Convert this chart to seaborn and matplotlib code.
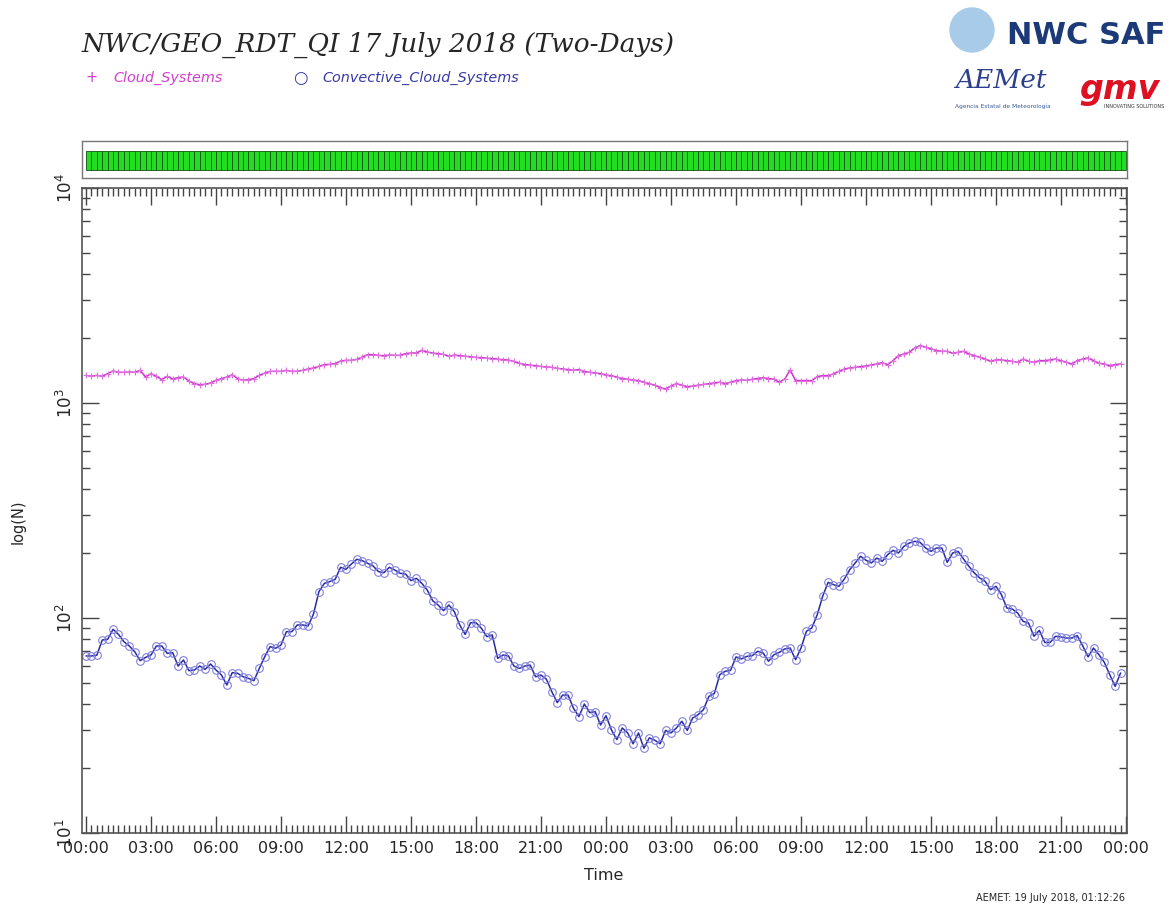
import numpy as np
import pandas as pd
import matplotlib
matplotlib.use('Agg')
import matplotlib.pyplot as plt
import seaborn as sns
from matplotlib.patches import Ellipse
from matplotlib.ticker import FixedLocator, MultipleLocator, NullFormatter

# values, one every 15 minutes from 17 July 00:00
convective_day1 = [
    66.6, 66.6, 67.1, 79.0, 79.6, 88.6, 83.9, 77.6, 74.1, 69.7,
    63.3, 65.6, 67.3, 74.1, 74.1, 68.5, 69.0, 59.8, 63.8, 56.9,
    57.3, 59.8, 57.7, 61.1, 57.3, 54.3, 48.8, 55.7, 55.3, 53.3,
    52.4, 51.1, 58.3, 66.1, 73.6, 72.3, 74.9, 86.4, 86.4, 92.8,
    92.8, 91.8, 104.4, 132.6, 144.9, 147.6, 151.3, 172.1, 168.4, 178.3,
    187.5, 184.8, 179.6, 174.6, 164.3, 162.5, 172.1, 167.2, 161.4, 160.2,
    149.2, 152.9, 144.9, 134.9, 120.4, 114.9, 108.2, 114.9, 107.0, 92.8,
    83.9, 95.1, 95.1, 89.5, 81.9, 83.4, 64.9, 67.3, 66.6, 59.8,
    58.3, 59.8, 60.4, 53.3, 54.3, 51.9, 45.4, 40.4, 43.8, 43.8,
    38.0, 34.8, 39.8, 36.3, 36.7, 31.8,
]
convective_day2 = [
    35.1, 30.2, 27.2, 30.8, 29.2, 26.0, 29.2, 24.8, 27.7, 27.0,
    26.0, 30.0, 29.2, 30.8, 33.1, 30.0, 34.3, 35.5, 37.5, 43.2,
    44.5, 54.5, 56.5, 57.1, 65.9, 64.5, 66.3, 66.8, 70.0, 68.8,
    62.9, 67.5, 69.2, 71.8, 72.5, 64.0, 72.5, 86.7, 89.9, 103.6,
    126.1, 146.5, 142.9, 140.4, 151.8, 167.8, 180.3, 193.6, 185.5, 180.3,
    190.1, 183.5, 197.0, 206.4, 200.6, 215.4, 223.3, 227.3, 224.9, 211.6,
    204.2, 211.6, 211.6, 181.5, 200.6, 204.2, 188.2, 173.9, 162.0, 153.5,
    148.1, 135.4, 140.4, 128.4, 111.3, 110.1, 105.5, 96.5, 94.8, 82.2,
    87.6, 77.0, 77.0, 82.2, 81.6, 80.7, 80.7, 82.8, 74.3, 65.9,
    72.5, 67.5, 62.2, 54.5, 48.1, 55.5,
]
cloud_a = [
    1345, 1331, 1345, 1331, 1369, 1409, 1389, 1389, 1394, 1389,
    1419, 1321, 1369, 1331, 1284, 1331, 1293, 1312, 1321, 1266,
    1230, 1217, 1222, 1239, 1275, 1298, 1321, 1354, 1298, 1275,
    1284, 1298, 1345, 1379, 1404, 1404, 1404, 1419, 1404, 1404,
    1419, 1439, 1455, 1481, 1508, 1513, 1524, 1568, 1579, 1579,
    1596, 1637, 1678, 1678, 1666, 1660, 1672, 1666, 1666, 1696,
    1708, 1708, 1758, 1727, 1708, 1696, 1684, 1648,
]
cloud_b = [
    1672, 1660, 1650, 1640, 1630, 1625, 1615, 1610,
    1600, 1590, 1585, 1560, 1530, 1510, 1500, 1490,
    1480, 1470, 1465, 1450, 1440, 1430, 1420, 1430,
    1400, 1390, 1380, 1370, 1350, 1340, 1320, 1300,
    1290, 1280, 1270, 1250, 1230, 1210, 1180, 1160,
    1200, 1230, 1210, 1190, 1200, 1210, 1220, 1230,
    1240, 1250, 1230, 1250, 1270, 1280, 1275, 1290,
    1300, 1310, 1300, 1290,
]
cloud_c = [
    1248, 1294, 1425, 1271, 1271, 1271, 1271, 1327, 1341, 1341,
    1365, 1404, 1440, 1455, 1466, 1476, 1487, 1503, 1519, 1541,
    1508, 1574, 1661, 1691, 1722, 1803, 1849, 1816, 1790, 1753,
    1740, 1740, 1703, 1722, 1740, 1691, 1661, 1631, 1602, 1563,
    1586, 1586, 1574, 1563, 1546, 1602, 1563, 1546, 1574, 1574,
    1586, 1602, 1574, 1546, 1519, 1574, 1602, 1620, 1574, 1530,
    1519, 1492, 1508, 1519,
]
tick_labels = ['00:00', '03:00', '06:00', '09:00', '12:00', '15:00',
               '18:00', '21:00', '00:00', '03:00', '06:00', '09:00',
               '12:00', '15:00', '18:00', '21:00', '00:00']

convective = convective_day1 + convective_day2
cloud = cloud_a + cloud_b + cloud_c
hours = np.arange(len(cloud)) * 0.25
df = pd.DataFrame({'hours': hours, 'cloud': cloud, 'convective': convective})

sns.set_style('white')
plt.rcParams['font.family'] = ['DejaVu Sans']

fig = plt.figure(figsize=(11.72, 9.06), dpi=100)
ax = fig.add_axes([82 / 1172, 73 / 906, 1045 / 1172, 645 / 906])
bar_ax = fig.add_axes([82 / 1172, 728 / 906, 1045 / 1172, 37 / 906])

pink = '#cc33cc'
blue = '#2a2aa0'
sns.lineplot(data=df, x='hours', y='cloud', ax=ax, color=pink, lw=1.1,
             marker='+', markersize=4, markeredgecolor='#e070e0', markeredgewidth=0.8)
sns.lineplot(data=df, x='hours', y='convective', ax=ax, color=blue, lw=1.1,
             marker='o', markersize=5.5, markerfacecolor='none',
             markeredgecolor='#8080dd', markeredgewidth=0.8)

xmin, xmax = -4 / 21.67, 48 + 1 / 21.67
ax.set_yscale('log')
ax.set_ylim(10, 10000)
ax.set_xlim(xmin, xmax)
ax.set_xticks(np.arange(0, 49, 3))
ax.set_xticklabels(tick_labels, fontsize=11.5)
ax.xaxis.set_minor_locator(MultipleLocator(0.25))
ax.set_yticks([10, 100, 1000, 10000])
ax.set_yticklabels(['$10^{1}$', '$10^{2}$', '$10^{3}$', '$10^{4}$'],
                   rotation=90, va='center', fontsize=12)
ax.yaxis.set_minor_locator(FixedLocator(
    [m * 10 ** e for e in range(1, 4) for m in range(2, 10)]))
ax.yaxis.set_minor_formatter(NullFormatter())
ax.tick_params(which='both', direction='in', top=True, right=True,
               bottom=True, left=True, color='#444444', width=1.0)
ax.tick_params(which='major', length=12)
ax.tick_params(which='minor', length=6)
ax.tick_params(axis='x', pad=6)
ax.tick_params(axis='y', pad=4)
for s in ax.spines.values():
    s.set_color('#555555')
    s.set_linewidth(1.2)
ax.set_xlabel('')
ax.set_ylabel('')

# availability bar, one cell per slot
bar_ax.bar(hours, 0.52, bottom=0.22, width=0.25, align='edge',
           color='#22dd22', edgecolor='#145214', linewidth=0.6)
bar_ax.set_xlim(xmin, xmax)
bar_ax.set_ylim(0, 1)
bar_ax.set_xticks([])
bar_ax.set_yticks([])
for s in bar_ax.spines.values():
    s.set_color('#777777')
    s.set_linewidth(1.0)

fig.text(82 / 1172, 1 - 45 / 906, 'NWC/GEO_RDT_QI 17 July 2018 (Two-Days)',
         family='DejaVu Serif', style='italic', fontsize=19, va='center')
fig.text(92 / 1172, 1 - 78 / 906, '+', color='#d040d0', fontsize=10.5,
         va='center', ha='center')
fig.text(113 / 1172, 1 - 78 / 906, 'Cloud_Systems', color='#d040d0',
         style='italic', fontsize=10.4, va='center')
fig.text(300 / 1172, 1 - 78 / 906, '○', color='#3a3aa8', fontsize=12,
         va='center', ha='center')
fig.text(322 / 1172, 1 - 78 / 906, 'Convective_Cloud_Systems', color='#3a3aa8',
         style='italic', fontsize=10.4, va='center')

fig.text(18 / 1172, 1 - 522 / 906, 'log(N)', rotation=90, fontsize=10.5,
         va='center', ha='center')
fig.text(604 / 1172, 1 - 875 / 906, 'Time', fontsize=11.5, va='center', ha='center')
fig.text(1125 / 1172, 1 - 898 / 906, 'AEMET: 19 July 2018, 01:12:26',
         fontsize=7, ha='right', va='center')

# logos as text
fig.patches.append(Ellipse((972 / 1172, 1 - 30 / 906), 44 / 1172, 44 / 906,
                           transform=fig.transFigure, color='#a9cbea', zorder=1))
fig.text(1165 / 1172, 1 - 36 / 906, 'NWC SAF', fontsize=22, weight='bold',
         color='#1d3a78', ha='right', va='center')
fig.text(955 / 1172, 1 - 80 / 906, 'AEMet', fontsize=19, style='italic',
         color='#2b3f8c', va='center', family='DejaVu Serif')
fig.text(1003 / 1172, 1 - 106 / 906, 'Agencia Estatal de Meteorología',
         fontsize=4.2, color='#3a5aa0', ha='center', va='center')
fig.text(1120 / 1172, 1 - 90 / 906, 'gmv', fontsize=24, weight='bold',
         style='italic', color='#dd1122', ha='center', va='center')
fig.text(1134 / 1172, 1 - 107 / 906, 'INNOVATING SOLUTIONS', fontsize=3.5,
         color='#333333', ha='center', va='center')

fig.savefig('out.png', dpi=100)
